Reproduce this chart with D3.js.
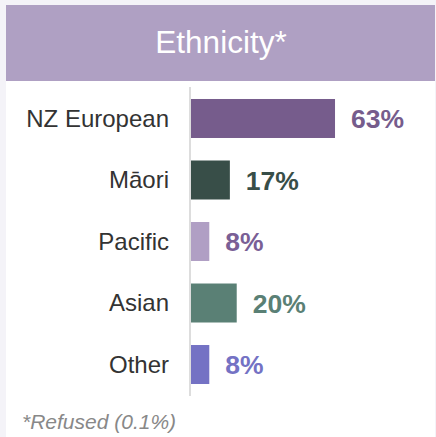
<!DOCTYPE html>
<html><head><meta charset="utf-8">
<script src="https://cdn.jsdelivr.net/npm/d3@7"></script>
<style>
html,body{margin:0;padding:0;background:#f4f3f8;}
svg{display:block;}
svg text{font-family:'Liberation Sans', Arial, sans-serif;}
</style></head>
<body>
<svg id="chart" width="436" height="437"></svg>
<script>
const title = "Ethnicity*";
const footnote = "*Refused (0.1%)";
const categories = ["NZ European", "Māori", "Pacific", "Asian", "Other"];
const values = [63, 17, 8, 20, 8];
const valueLabels = ["63%", "17%", "8%", "20%", "8%"];
const barColors = ["#765c8c", "#384e48", "#b09fc4", "#5a8075", "#7472c4"];
const labelColors = ["#765c8c", "#384e48", "#7a5f96", "#5a8075", "#7472c4"];

const FONT = "'Liberation Sans', Arial, sans-serif";
const svg = d3.select("#chart");
const W = 436, H = 437;

// panel
svg.append("rect").attr("x", 6).attr("y", 5).attr("width", 429).attr("height", H - 5).attr("fill", "#ffffff");
svg.append("rect").attr("x", 6).attr("y", 5).attr("width", 429).attr("height", 76).attr("fill", "#afa0c3");
svg.append("text").attr("x", 221).attr("y", 53).attr("text-anchor", "middle")
  .style("font-family", FONT).attr("font-size", 31.5)
  .attr("fill", "#ffffff").text(title);

const x = d3.scaleLinear().domain([0, 100]).range([191, 419.6]);
const y = d3.scaleBand().domain(categories).range([87, 396]).paddingInner(0.366).paddingOuter(0.195);

const data = categories.map((c, i) => ({c, v: values[i], l: valueLabels[i], bc: barColors[i], lc: labelColors[i]}));

svg.selectAll("rect.bar").data(data).join("rect").attr("class", "bar")
  .attr("x", x(0)).attr("y", d => y(d.c))
  .attr("width", d => x(d.v) - x(0)).attr("height", y.bandwidth())
  .attr("fill", d => d.bc);

// axis
const yAxis = d3.axisLeft(y).tickSize(0).tickPadding(21);
const ag = svg.append("g").attr("transform", "translate(190,0)").call(yAxis);
ag.attr("font-family", null);
ag.select(".domain").attr("stroke", "#dddddd").attr("stroke-width", 2).attr("d", "M0,87V396");
ag.selectAll("text").style("font-family", FONT)
  .attr("font-size", 24).attr("fill", "#333333").attr("dy", "0.35em");

svg.selectAll("text.val").data(data).join("text").attr("class", "val")
  .attr("x", d => x(d.v) + 16).attr("y", d => y(d.c) + y.bandwidth() / 2)
  .attr("dy", "0.37em")
  .style("font-family", FONT).attr("font-weight", "bold")
  .attr("font-size", 26.5).attr("fill", d => d.lc).text(d => d.l);

svg.append("text").attr("x", 22).attr("y", 429)
  .style("font-family", FONT).attr("font-style", "italic")
  .attr("font-size", 21).attr("fill", "#888888").text(footnote);
</script>
</body></html>
